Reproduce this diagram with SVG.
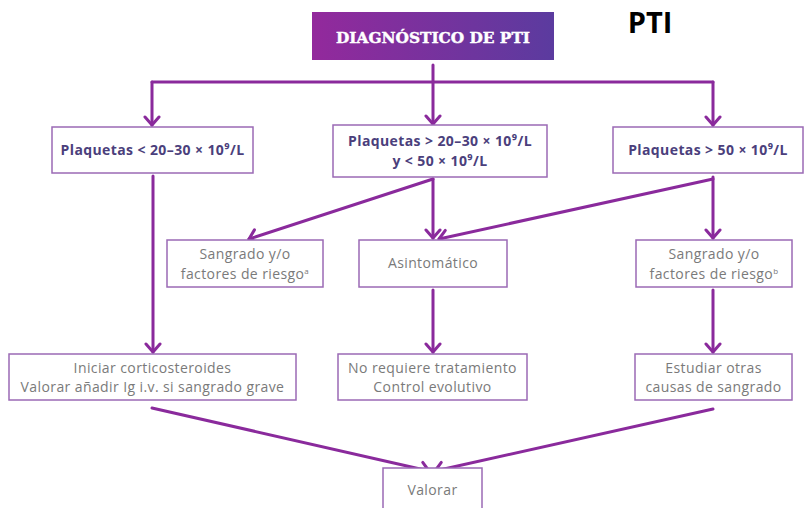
<svg xmlns="http://www.w3.org/2000/svg" width="806" height="508" viewBox="0 0 806 508">
<defs>
<linearGradient id="tg" x1="0" y1="0" x2="1" y2="0">
<stop offset="0" stop-color="#93299c"/>
<stop offset="1" stop-color="#5b3b9f"/>
</linearGradient>
<marker id="ah" viewBox="-10 -10 14 20" markerWidth="14" markerHeight="20" refX="0" refY="0" orient="auto" markerUnits="userSpaceOnUse">
<path d="M-8,-7 L0,0 L-8,7" fill="none" stroke="#8a2a9c" stroke-width="3" stroke-linecap="round" stroke-linejoin="round"/>
</marker>
<style>
.box{fill:#fff;stroke:#9b6ab5;stroke-width:1.5}
.bt{font-family:"Open Sans","Noto Sans",sans-serif;font-weight:700;font-size:14px;letter-spacing:0.4px;fill:#4b3f7c;text-anchor:middle}
.gt{font-family:"Open Sans","Noto Sans",sans-serif;font-weight:400;font-size:14px;letter-spacing:0.4px;fill:#7a7a7a;text-anchor:middle}
.c{fill:none;stroke:#8a2a9c;stroke-width:3;stroke-linecap:round;stroke-linejoin:round}
.a{marker-end:url(#ah)}
.sp{font-size:8px}
</style>
</defs>
<rect width="806" height="508" fill="#fff"/>
<g id="title">
<rect x="312" y="12" width="242" height="48" fill="url(#tg)"/>
<text x="433" y="43" font-family="'DejaVu Serif','Liberation Serif',serif" font-weight="700" font-size="14" fill="#fff" stroke="#fff" stroke-width="0.4" text-anchor="middle" textLength="194" lengthAdjust="spacingAndGlyphs">DIAGNÓSTICO DE PTI</text>
</g>
<g id="pti-label">
<text x="650" y="33" font-family="'Open Sans','Liberation Sans',sans-serif" font-weight="700" font-size="29" fill="#000" text-anchor="middle">PTI</text>
</g>
<g id="connectors">
<path class="c" d="M433,65 V82"/>
<path class="c" d="M152,82 H713"/>
<path class="c a" d="M152,82 V125"/>
<path class="c a" d="M433,82 V124"/>
<path class="c a" d="M713,82 V125"/>
<path class="c a" d="M153,176 V352"/>
<path class="c a" d="M433,179 V238"/>
<path class="c a" d="M433,179 L249,239"/>
<path class="c a" d="M713,177 V238"/>
<path class="c a" d="M713,179 L439,239"/>
<path class="c a" d="M433,290 V352"/>
<path class="c a" d="M713,290 V352"/>
<path class="c a" d="M152,408 L429,471"/>
<path class="c a" d="M713,409 L435,471"/>
</g>
<g id="n1">
<rect class="box" x="52" y="127" width="201" height="46"/>
<text class="bt" x="152.5" y="155">Plaquetas &lt; 20–30 × 10⁹/L</text>
</g>
<g id="n2">
<rect class="box" x="333" y="125" width="214" height="52"/>
<text class="bt" x="440" y="146">Plaquetas &gt; 20–30 × 10⁹/L</text>
<text class="bt" x="440" y="166">y &lt; 50 × 10⁹/L</text>
</g>
<g id="n3">
<rect class="box" x="613" y="127" width="190" height="46"/>
<text class="bt" x="708" y="155">Plaquetas &gt; 50 × 10⁹/L</text>
</g>
<g id="n4">
<rect class="box" x="167" y="240" width="156" height="47"/>
<text class="gt" x="245" y="259">Sangrado y/o</text>
<text class="gt" x="245" y="279">factores de riesgo<tspan class="sp" dy="-5">a</tspan></text>
</g>
<g id="n5">
<rect class="box" x="359" y="240" width="148" height="47"/>
<text class="gt" x="433" y="268">Asintomático</text>
</g>
<g id="n6">
<rect class="box" x="636" y="240" width="156" height="47"/>
<text class="gt" x="714" y="259">Sangrado y/o</text>
<text class="gt" x="714" y="279">factores de riesgo<tspan class="sp" dy="-5">b</tspan></text>
</g>
<g id="n7">
<rect class="box" x="9" y="354" width="287" height="46"/>
<text class="gt" x="152.5" y="373">Iniciar corticosteroides</text>
<text class="gt" x="152.5" y="392">Valorar añadir Ig i.v. si sangrado grave</text>
</g>
<g id="n8">
<rect class="box" x="338" y="354" width="189" height="46"/>
<text class="gt" x="432.5" y="373">No requiere tratamiento</text>
<text class="gt" x="432.5" y="392">Control evolutivo</text>
</g>
<g id="n9">
<rect class="box" x="635" y="354" width="157" height="46"/>
<text class="gt" x="713.5" y="373">Estudiar otras</text>
<text class="gt" x="713.5" y="392">causas de sangrado</text>
</g>
<g id="n10">
<rect class="box" x="383" y="468" width="99" height="50"/>
<text class="gt" x="432.5" y="495">Valorar</text>
</g>
</svg>
